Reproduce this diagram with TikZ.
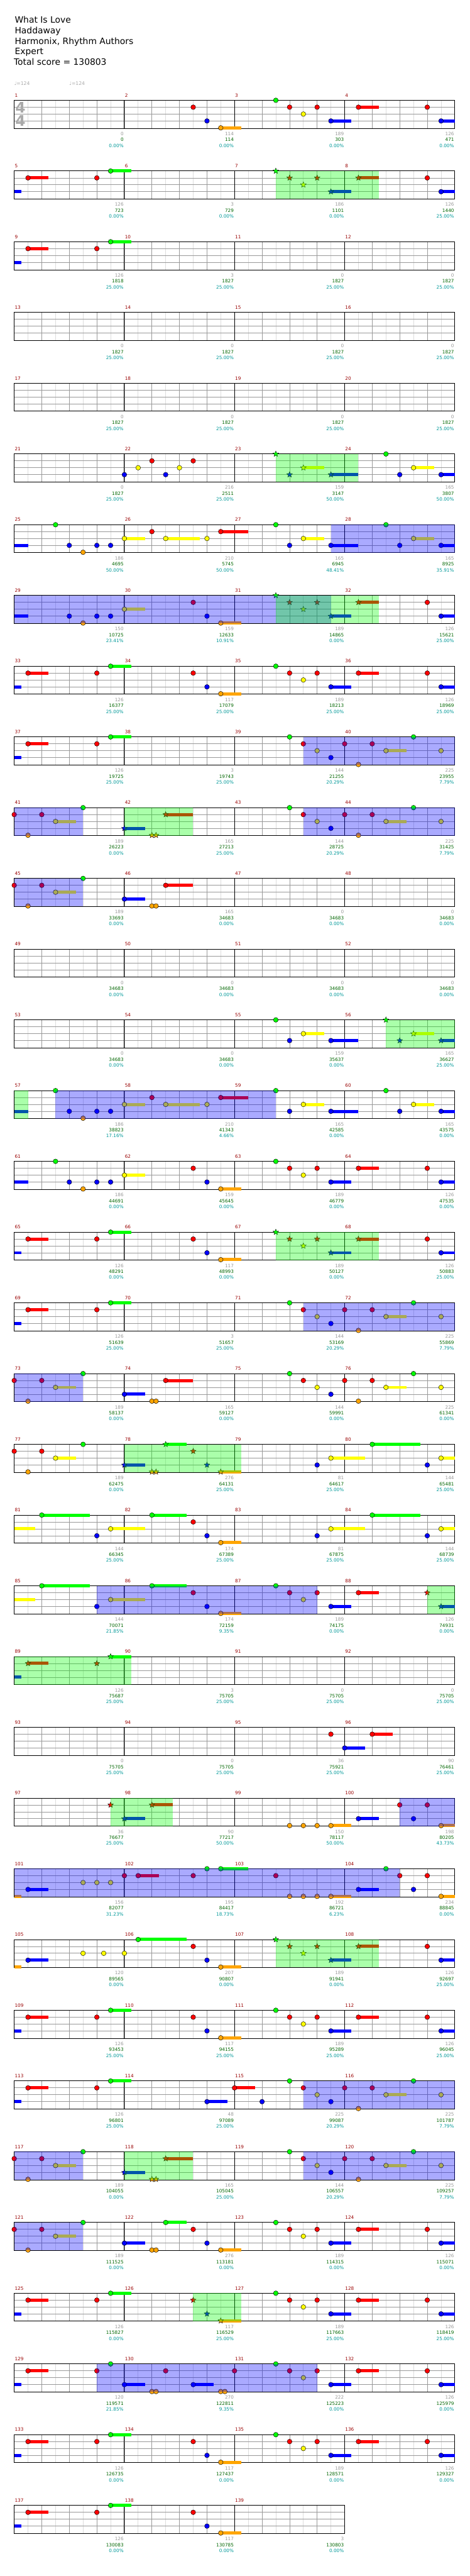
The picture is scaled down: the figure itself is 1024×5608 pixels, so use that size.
\documentclass[tikz,border=0pt]{standalone}
\usepackage{fontspec}
\setmainfont{DejaVu Sans}
\usetikzlibrary{shapes.geometric}
\definecolor{lane0}{HTML}{00FF00}
\definecolor{lane1}{HTML}{FF0000}
\definecolor{lane2}{HTML}{FFFF00}
\definecolor{lane3}{HTML}{0000FF}
\definecolor{lane4}{HTML}{FFA500}
\definecolor{gridl}{HTML}{DDDDDD}
\definecolor{gridd}{HTML}{999999}
\definecolor{mnum}{HTML}{990000}
\definecolor{tgray}{HTML}{999999}
\definecolor{tgreen}{HTML}{006600}
\definecolor{tteal}{HTML}{009999}
\definecolor{tsig}{HTML}{AAAAAA}
\tikzset{
  lg/.style={gridl,line width=1pt},
  dg/.style={gridd,line width=1pt},
  bl/.style={black,line width=1.2pt},
  notec/.style={draw=black,line width=0.6pt},
  nstar/.style={star,star points=5,star point ratio=2.3,minimum size=13pt,inner sep=0pt,draw=black,line width=0.5pt},
  ovb/.style={fill=lane3,fill opacity=0.333},
  ovg/.style={fill=lane0,fill opacity=0.333},
  mlab/.style={anchor=base west,inner sep=0pt,text=mnum,font=\fontsize{10}{12}\selectfont},
  sgray/.style={anchor=base east,inner sep=0pt,text=tgray,font=\fontsize{10}{12}\selectfont},
  sgreen/.style={anchor=base east,inner sep=0pt,text=tgreen,font=\fontsize{10}{12}\selectfont},
  steal/.style={anchor=base east,inner sep=0pt,text=tteal,font=\fontsize{10}{12}\selectfont},
  head/.style={anchor=base west,inner sep=0pt,font=\fontsize{19}{23}\selectfont},
  tempo/.style={anchor=base west,inner sep=0pt,text=tsig,font=\fontsize{10.5}{12}\selectfont},
  tsnum/.style={inner sep=0pt,text=tsig,font=\fontsize{32}{32}\selectfont\bfseries}
}
% notes
\newcommand\Nc[2]{\fill[fill=lane#2,notec] (31+30*#1,\ry+15*#2) circle[radius=5.2pt];}
\newcommand\Nbar[3]{\fill[lane#2] (31+30*#1,\ry+15*#2-3.4) rectangle (31+30*#3,\ry+15*#2+3.4);}
\newcommand\Ncs[3]{\Nbar{#1}{#2}{#3}\Nc{#1}{#2}}
\newcommand\Ns[2]{\node[nstar,fill=lane#2] at (31+30*#1,\ry+15*#2) {};}
\newcommand\Nss[3]{\Nbar{#1}{#2}{#3}\Ns{#1}{#2}}
\newcommand\OvB[2]{\fill[ovb] (31+30*#1,\ry) rectangle (31+30*#2,\ry+61);}
\newcommand\OvG[2]{\fill[ovg] (31+30*#1,\ry) rectangle (31+30*#2,\ry+61);}
% staff
\newcommand\Staff[2]{%
  \pgfmathsetmacro\ry{218.3+154*#1}%
  \pgfmathsetmacro\xe{31+240*#2}%
  \pgfmathtruncatemacro\nE{8*#2}%
  \foreach \i in {1,3,...,\nE} \draw[lg] (31+30*\i,\ry) -- ++(0,61);
  \foreach \i in {2,4,...,\nE} \draw[dg] (31+30*\i,\ry) -- ++(0,61);
  \foreach \l in {15,30,45} \draw[dg] (31,\ry+\l) -- (\xe,\ry+\l);
  \foreach \j in {1,...,#2} \draw[bl] (31+240*\j,\ry) -- ++(0,61);
  \draw[bl] (31,\ry) rectangle (\xe,\ry+61);
  \foreach \j in {1,...,#2} {\pgfmathtruncatemacro\mn{4*#1+\j}\node[mlab] at (31+240*\j-239,\ry-7.3) {\mn};}
}
\newcommand\Nums[1]{\foreach \pa/\pb/\pc [count=\j] in {#1} {%
  \node[sgray] at (31+240*\j-1.5,\ry+76.7) {\pa};
  \node[sgreen] at (31+240*\j-1.5,\ry+89.7) {\pb};
  \node[steal] at (31+240*\j-1.5,\ry+102.4) {\pc\%};}}
% riffs
\newcommand\rfA{\Nbar{0}{3}{0.5}\Ncs{1}{1}{2.5}\Nc{6}{1}\Ncs{7}{0}{8.5}}
\newcommand\rfB{\Nc{13}{1}\Nc{14}{3}\Ncs{15}{4}{16.5}}
\newcommand\rfBs{\Ns{13}{1}\Ns{14}{3}\Nss{15}{4}{16.5}}
\newcommand\rfC{\Nc{19}{0}\Nc{20}{1}\Nc{21}{2}\Nc{22}{1}\Ncs{23}{3}{24.5}\Ncs{25}{1}{26.5}}
\newcommand\rfCs{\Ns{19}{0}\Ns{20}{1}\Ns{21}{2}\Ns{22}{1}\Nss{23}{3}{24.5}\Nss{25}{1}{26.5}}
\newcommand\rfD{\Nc{30}{1}\Ncs{31}{3}{32}}
\newcommand\rfE{\Nc{20}{0}\Nc{21}{1}\Nc{22}{2}\Nc{23}{3}\Nc{24}{1}\Nc{25}{4}\Nc{26}{1}\Ncs{27}{2}{28.5}\Nc{29}{0}\Nc{31}{2}}
\newcommand\rfF{\Nc{0}{1}\Nc{1}{4}\Nc{2}{1}\Ncs{3}{2}{4.5}\Nc{5}{0}}
\newcommand\rfG{\Ncs{8}{3}{9.5}\Nc{10}{4}\Nc{10.3}{4}\Ncs{11}{1}{13}}
\newcommand\rfGs{\Nss{8}{3}{9.5}\Ns{10}{4}\Ns{10.3}{4}\Nss{11}{1}{13}}
\newcommand\rfH{\Nbar{0}{3}{1}\Nc{3}{0}\Nc{4}{3}\Nc{5}{4}\Nc{6}{3}\Nc{7}{3}}
\newcommand\rfI{\Ncs{8}{2}{9.5}\Nc{10}{1}\Ncs{11}{2}{13.5}\Nc{14}{2}\Ncs{15}{1}{17}}
\newcommand\rfJa{\Nc{19}{0}\Nc{20}{3}\Ncs{21}{2}{22.5}\Ncs{23}{3}{25}}
\newcommand\rfJas{\Ns{19}{0}\Ns{20}{3}\Nss{21}{2}{22.5}\Nss{23}{3}{25}}
\newcommand\rfJb{\Nc{27}{0}\Nc{28}{3}\Ncs{29}{2}{30.5}\Ncs{31}{3}{32}}
\newcommand\rfJbs{\Ns{27}{0}\Ns{28}{3}\Nss{29}{2}{30.5}\Nss{31}{3}{32}}
\newcommand\rfK{\Nc{22}{3}\Ncs{23}{2}{25.5}\Ncs{26}{0}{29.5}\Nc{30}{3}\Ncs{31}{2}{32}}
\newcommand\rfL{\Nbar{0}{2}{1.5}\Ncs{2}{0}{5.5}\Nc{6}{3}\Ncs{7}{2}{9.5}\Ncs{10}{0}{12.5}}
\begin{document}
\begin{tikzpicture}[x=1pt,y=-1pt]
\useasboundingbox (0,0) rectangle (1024,5608);
\fill[white] (0,0) rectangle (1024,5608);
% header
\node[head] (t1) at (32,49.3) {What Is Love};
\node[head] (t2) at (32,72.7) {Haddaway};
\node[head] (t3) at (32,96) {Harmonix, Rhythm Authors};
\node[head] (t4) at (32,118.3) {Expert};
\node[head] (t5) at (30,141.7) {Total score = 130803};
\node[tempo] (tp1) at (31,185.3) {♩=124};
\node[tempo] (tp2) at (151,185.3) {♩=124};
% row 0
\Staff{0}{4}
\node[tsnum] (ts1) at (44.5,233.5) {4};
\node[tsnum] (ts2) at (44.5,263.5) {4};
\rfB\rfC\rfD
\Nums{0/0/0.00,114/114/0.00,189/303/0.00,126/471/0.00}
% row 1
\Staff{1}{4}\rfA\rfCs\rfD\OvG{19}{26.5}
\Nums{126/723/0.00,3/729/0.00,186/1101/0.00,126/1440/25.00}
% row 2
\Staff{2}{4}\rfA
\Nums{126/1818/25.00,3/1827/25.00,0/1827/25.00,0/1827/25.00}
% row 3
\Staff{3}{4}
\Nums{0/1827/25.00,0/1827/25.00,0/1827/25.00,0/1827/25.00}
% row 4
\Staff{4}{4}
\Nums{0/1827/25.00,0/1827/25.00,0/1827/25.00,0/1827/25.00}
% row 5
\Staff{5}{4}\Nc{8}{3}\Nc{9}{2}\Nc{10}{1}\Nc{11}{3}\Nc{12}{2}\Nc{13}{1}\rfJas\rfJb\OvG{19}{25}
\Nums{0/1827/25.00,216/2511/25.00,159/3147/50.00,165/3807/50.00}
% row 6
\Staff{6}{4}\rfH\rfI\rfJa\rfJb\OvB{23}{32}
\Nums{186/4695/50.00,210/5745/50.00,165/6945/48.41,165/8925/35.91}
% row 7
\Staff{7}{4}\Nbar{0}{3}{1}\Nc{4}{3}\Nc{5}{4}\Nc{6}{3}\Nc{7}{3}\Ncs{8}{2}{9.5}\rfB\rfCs\rfD\OvB{0}{23}\OvG{19}{26.5}
\Nums{150/10725/23.41,159/12633/10.91,189/14865/0.00,126/15621/25.00}
% row 8
\Staff{8}{4}\rfA\rfB\rfC\rfD
\Nums{126/16377/25.00,117/17079/25.00,189/18213/25.00,126/18969/25.00}
% row 9
\Staff{9}{4}\rfA\rfE\OvB{21}{32}
\Nums{126/19725/25.00,3/19743/25.00,144/21255/20.29,225/23955/7.79}
% row 10
\Staff{10}{4}\rfF\rfGs\rfE\OvB{0}{5}\OvG{8}{13}\OvB{21}{32}
\Nums{189/26223/0.00,165/27213/25.00,144/28725/20.29,225/31425/7.79}
% row 11
\Staff{11}{4}\rfF\rfG\OvB{0}{5}
\Nums{189/33693/0.00,165/34683/0.00,0/34683/0.00,0/34683/0.00}
% row 12
\Staff{12}{4}
\Nums{0/34683/0.00,0/34683/0.00,0/34683/0.00,0/34683/0.00}
% row 13
\Staff{13}{4}\rfJa\rfJbs\OvG{27}{32}
\Nums{0/34683/0.00,0/34683/0.00,159/35637/0.00,165/36627/25.00}
% row 14
\Staff{14}{4}\rfH\rfI\rfJa\rfJb\OvG{0}{1}\OvB{3}{19}
\Nums{186/38823/17.16,210/41343/4.66,165/42585/0.00,165/43575/0.00}
% row 15
\Staff{15}{4}\rfH\Ncs{8}{2}{9.5}\rfB\rfC\rfD
\Nums{186/44691/0.00,159/45645/0.00,189/46779/0.00,126/47535/0.00}
% row 16
\Staff{16}{4}\rfA\rfB\rfCs\rfD\OvG{19}{26.5}
\Nums{126/48291/0.00,117/48993/0.00,189/50127/0.00,126/50883/25.00}
% row 17
\Staff{17}{4}\rfA\rfE\OvB{21}{32}
\Nums{126/51639/25.00,3/51657/25.00,144/53169/20.29,225/55869/7.79}
% row 18
\Staff{18}{4}\rfF\rfG\rfE\OvB{0}{5}
\Nums{189/58137/0.00,165/59127/0.00,144/59991/0.00,225/61341/0.00}
% row 19
\Staff{19}{4}\rfF\Nss{8}{3}{9.5}\Ns{10}{4}\Ns{10.3}{4}\Nss{11}{0}{12.5}\Ns{13}{1}\Ns{14}{3}\Nss{15}{4}{16.5}\rfK\OvG{8}{16.5}
\Nums{189/62475/0.00,276/64131/25.00,81/64617/25.00,144/65481/25.00}
% row 20
\Staff{20}{4}\rfL\rfB\rfK
\Nums{144/66345/25.00,174/67389/25.00,81/67875/25.00,144/68739/25.00}
% row 21
\Staff{21}{4}\rfL\rfB\rfC\Ns{30}{1}\Nss{31}{3}{32}\OvB{6}{22}\OvG{30}{32}
\Nums{144/70071/21.85,174/72159/9.35,189/74175/0.00,126/74931/0.00}
% row 22
\Staff{22}{4}\Nbar{0}{3}{0.5}\Nss{1}{1}{2.5}\Ns{6}{1}\Nss{7}{0}{8.5}\OvG{0}{8.5}
\Nums{126/75687/25.00,3/75705/25.00,0/75705/25.00,0/75705/25.00}
% row 23
\Staff{23}{4}\Nc{23}{1}\Ncs{24}{3}{25.5}\Ncs{26}{1}{27.5}
\Nums{0/75705/25.00,0/75705/25.00,36/75921/25.00,90/76461/25.00}
% row 24
\Staff{24}{4}\Ns{7}{1}\Nss{8}{3}{9.5}\Nss{10}{1}{11.5}\Nc{20}{4}\Nc{21}{4}\Nc{22}{4}\Ncs{23}{4}{24.5}\Ncs{25}{3}{26.5}\Nc{28}{1}\Nc{29}{3}\Nc{30}{1}\Ncs{31}{4}{32}\OvG{7}{11.5}\OvB{28}{32}
\Nums{36/76677/25.00,90/77217/50.00,150/78117/50.00,198/80205/43.73}
% row 25
\Staff{25}{4}\Nbar{0}{4}{0.5}\Ncs{1}{3}{2.5}\Nc{5}{2}\Nc{6}{2}\Nc{7}{2}\Nc{8}{1}\Ncs{9}{1}{10.5}\Nc{13}{1}\Nc{14}{0}\Ncs{15}{0}{17}\Nc{19}{1}\Nc{20}{4}\Nc{21}{4}\Nc{22}{4}\Ncs{23}{4}{24.5}\Ncs{25}{3}{26.5}\Nc{27}{0}\Nc{28}{1}\Nc{29}{3}\Nc{30}{1}\Ncs{31}{4}{32}\OvB{0}{28}
\Nums{156/82077/31.23,195/84417/18.73,192/86721/6.23,234/88845/0.00}
% row 26
\Staff{26}{4}\Nbar{0}{4}{0.5}\Ncs{1}{3}{2.5}\Nc{5}{2}\Nc{6.5}{2}\Nc{8}{2}\Ncs{9}{0}{12.5}\rfB\rfCs\rfD\OvG{19}{26.5}
\Nums{120/89565/0.00,207/90807/0.00,189/91941/0.00,126/92697/25.00}
% row 27
\Staff{27}{4}\rfA\rfB\rfC\rfD
\Nums{126/93453/25.00,117/94155/25.00,189/95289/25.00,126/96045/25.00}
% row 28
\Staff{28}{4}\rfA\Ncs{14}{3}{15.5}\Ncs{16}{1}{17.5}\Nc{18}{3}\rfE\OvB{21}{32}
\Nums{126/96801/25.00,48/97089/25.00,225/99087/20.29,225/101787/7.79}
% row 29
\Staff{29}{4}\rfF\rfGs\rfE\OvB{0}{5}\OvG{8}{13}\OvB{21}{32}
\Nums{189/104055/0.00,165/105045/25.00,144/106557/20.29,225/109257/7.79}
% row 30
\Staff{30}{4}\rfF\Ncs{8}{3}{9.5}\Nc{10}{4}\Nc{10.3}{4}\Ncs{11}{0}{12.5}\rfB\rfC\rfD\OvB{0}{5}
\Nums{189/111525/0.00,276/113181/0.00,189/114315/0.00,126/115071/0.00}
% row 31
\Staff{31}{4}\rfA\rfBs\rfC\rfD\OvG{13}{16.5}
\Nums{126/115827/0.00,117/116529/25.00,189/117663/25.00,126/118419/25.00}
% row 32
\Staff{32}{4}\Nbar{0}{3}{0.5}\Ncs{1}{1}{2.5}\Nc{6}{1}\Nc{7}{0}\Ncs{8}{3}{9.5}\Nc{10}{4}\Nc{10.3}{4}\Nc{11}{1}\Ncs{13}{3}{14.5}\Nc{15}{4}\Nc{15.3}{4}\Nc{16}{1}\rfC\rfD\OvB{6}{22}
\Nums{120/119571/21.85,270/122811/9.35,222/125223/0.00,126/125979/0.00}
% row 33
\Staff{33}{4}\rfA\rfB\rfC\rfD
\Nums{126/126735/0.00,117/127437/0.00,189/128571/0.00,126/129327/0.00}
% row 34
\Staff{34}{3}\rfA\rfB
\Nums{126/130083/0.00,117/130785/0.00,3/130803/0.00}
\end{tikzpicture}
\end{document}
